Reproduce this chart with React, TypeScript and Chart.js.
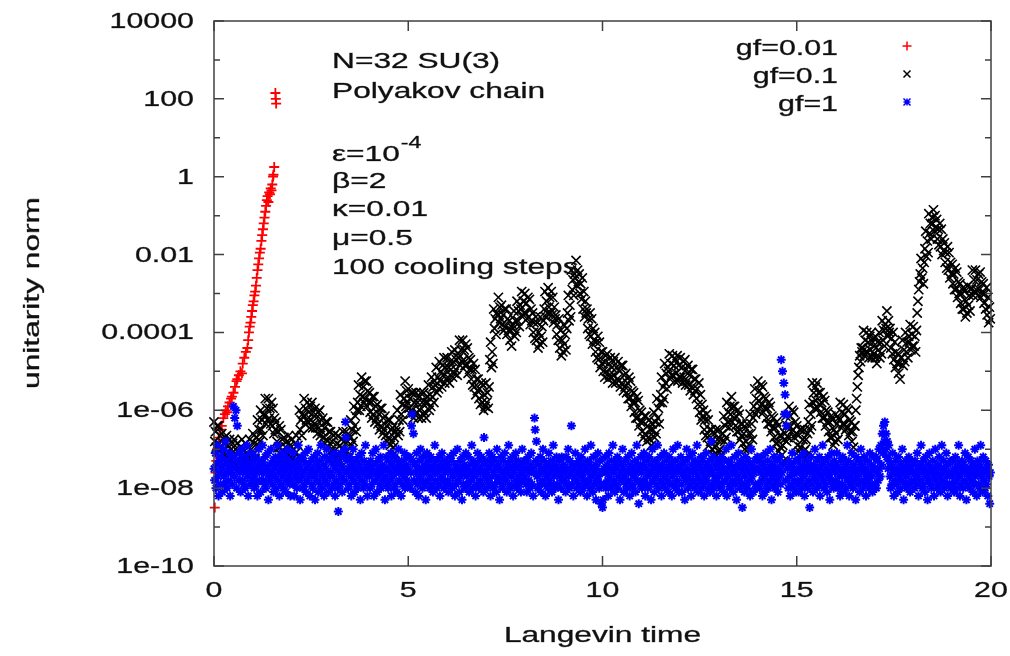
import React, { useEffect, useRef } from 'react';
import { Chart, registerables } from 'chart.js';

Chart.register(...registerables);

// ---------- axis / label data ----------
const X_TICKS = [0, 5, 10, 15, 20];
const X_TICK_LABELS = ['0', '5', '10', '15', '20'];
const Y_TICKS = [1e4, 1e2, 1, 1e-2, 1e-4, 1e-6, 1e-8, 1e-10];
const Y_TICK_LABELS = ['10000', '100', '1', '0.01', '0.0001', '1e-06', '1e-08', '1e-10'];
const Y_MINOR_TICKS = [1e3, 1e1, 1e-1, 1e-3, 1e-5, 1e-7, 1e-9];
const X_TITLE = 'Langevin time';
const Y_TITLE = 'unitarity norm';
const SERIES_LABELS = ['gf=0.01', 'gf=0.1', 'gf=1'];
const INFO_LINES = ['N=32 SU(3)', 'Polyakov chain'];
const PARAM_LINES = ['β=2', 'κ=0.01', 'μ=0.5', '100 cooling steps'];

// ---------- series: gf=0.01 (time, log10 of norm) ----------
const GF001_TIME = [
  0.02, 0.04, 0.06, 0.08, 0.12, 0.16, 0.2, 0.24, 0.28, 0.3, 0.34, 0.36, 0.4, 0.44, 0.46, 0.5,
  0.54, 0.58, 0.6, 0.64, 0.68, 0.72, 0.74, 0.78, 0.82, 0.86, 0.88, 0.9, 0.92, 0.94, 0.96, 0.98,
  1.0, 1.02, 1.04, 1.06, 1.08, 1.1, 1.12, 1.14, 1.16, 1.18, 1.2, 1.22, 1.24, 1.26, 1.28, 1.3,
  1.32, 1.34, 1.36, 1.38, 1.4, 1.42, 1.44, 1.46, 1.48, 1.5, 1.52, 1.53, 1.55, 1.58, 1.59, 1.6,
];
const GF001_LOG = [
  -8.5, -7.6, -7.3, -7.0, -6.7, -6.5, -6.4, -6.2, -6.1, -6.0, -6.05, -5.9, -5.8, -5.7, -5.65, -5.55,
  -5.4, -5.25, -5.2, -5.1, -5.0, -5.05, -4.8, -4.65, -4.5, -4.4, -4.2, -4.0, -3.85, -3.75, -3.6, -3.45,
  -3.3, -3.2, -3.05, -2.95, -2.8, -2.6, -2.4, -2.25, -2.1, -1.95, -1.85, -1.65, -1.5, -1.35, -1.2, -1.05,
  -0.9, -0.75, -0.6, -0.5, -0.65, -0.4, -0.45, -0.3, -0.35, -0.2, 0.0, 0.05, 0.25, 2.15, 2.0, 1.88,
];

// ---------- series: gf=0.1 (log10 of norm, sampled every GF01_DT) ----------
const GF01_DT = 0.02;
const GF01_LOG = [
  -6.3,-6.8,-6.55,-6.95,-6.4,-6.85,-6.4,-7.05,-6.65,-6.95,-6.6,-7.1,-6.85,-7.25,-6.7,-7.1,-6.65,-7.3,-6.9,-7.2,-6.75,-7.25,-7.0,-7.4,-6.85,
  -7.2,-6.75,-7.4,-7.0,-7.3,-6.85,-7.35,-7.1,-7.5,-6.95,-7.2,-6.75,-7.4,-7.0,-7.3,-6.85,-7.35,-7.1,-7.5,-6.95,-7.2,-6.75,-7.4,-7.0,-7.3,
  -6.6,-7.1,-6.85,-7.25,-6.7,-6.7,-6.25,-6.9,-6.5,-6.8,-6.0,-6.5,-6.25,-6.65,-6.1,-6.15,-5.7,-6.35,-5.95,-6.25,-5.7,-6.2,-5.95,-6.35,-5.8,
  -6.4,-5.95,-6.6,-6.2,-6.5,-6.3,-6.8,-6.55,-6.95,-6.4,-6.95,-6.5,-7.15,-6.75,-7.05,-6.7,-7.2,-6.95,-7.35,-6.8,-7.1,-6.65,-7.3,-6.9,-7.2,
  -6.75,-7.25,-7.0,-7.4,-6.85,-7.1,-6.65,-7.3,-6.9,-7.2,-6.0,-6.5,-6.25,-6.65,-6.1,-6.15,-5.7,-6.35,-5.95,-6.25,-5.8,-6.3,-6.05,-6.45,-5.9,
  -6.25,-5.8,-6.45,-6.05,-6.35,-5.95,-6.45,-6.2,-6.6,-6.05,-6.45,-6.0,-6.65,-6.25,-6.55,-6.2,-6.7,-6.45,-6.85,-6.3,-6.75,-6.3,-6.95,-6.55,-6.85,
  -6.55,-7.05,-6.8,-7.2,-6.65,-7.05,-6.6,-7.25,-6.85,-7.15,-6.65,-7.15,-6.9,-7.3,-6.75,-7.0,-6.55,-7.2,-6.8,-7.1,-6.55,-7.05,-6.8,-7.2,-6.65,
  -6.7,-6.25,-6.9,-6.5,-6.8,-5.9,-6.4,-6.15,-6.55,-6.0,-5.8,-5.35,-6.0,-5.6,-5.9,-5.15,-5.65,-5.4,-5.8,-5.25,-5.7,-5.25,-5.9,-5.5,-5.8,
  -5.55,-6.05,-5.8,-6.2,-5.65,-6.1,-5.65,-6.3,-5.9,-6.2,-5.85,-6.35,-6.1,-6.5,-5.95,-6.4,-5.95,-6.6,-6.2,-6.5,-6.15,-6.65,-6.4,-6.8,-6.25,
  -6.7,-6.25,-6.9,-6.5,-6.8,-6.45,-6.95,-6.7,-7.1,-6.55,-6.45,-6.0,-6.65,-6.25,-6.55,-5.6,-6.1,-5.85,-6.25,-5.7,-5.7,-5.25,-5.9,-5.5,-5.8,
  -5.45,-5.95,-5.7,-6.1,-5.55,-6.0,-5.55,-6.2,-5.8,-6.1,-5.55,-6.05,-5.8,-6.2,-5.65,-6.0,-5.55,-6.2,-5.8,-6.1,-5.55,-6.05,-5.8,-6.2,-5.65,
  -5.8,-5.35,-6.0,-5.6,-5.9,-5.15,-5.65,-5.4,-5.8,-5.25,-5.35,-4.9,-5.55,-5.15,-5.45,-4.75,-5.25,-5.0,-5.4,-4.85,-5.1,-4.65,-5.3,-4.9,-5.2,
  -4.65,-5.15,-4.9,-5.3,-4.75,-4.95,-4.5,-5.15,-4.75,-5.05,-4.45,-4.95,-4.7,-5.1,-4.55,-4.65,-4.2,-4.85,-4.45,-4.75,-4.2,-4.7,-4.45,-4.85,-4.3,
  -4.85,-4.4,-5.05,-4.65,-4.95,-4.7,-5.2,-4.95,-5.35,-4.8,-5.4,-4.95,-5.6,-5.2,-5.5,-5.2,-5.7,-5.45,-5.85,-5.3,-5.8,-5.35,-6.0,-5.6,-5.9,
  -5.3,-5.8,-5.55,-5.95,-5.4,-4.7,-4.25,-4.9,-4.5,-4.8,-3.4,-3.9,-3.65,-4.05,-3.5,-3.55,-3.1,-3.75,-3.35,-3.65,-3.3,-3.8,-3.55,-3.95,-3.4,
  -3.85,-3.4,-4.05,-3.65,-3.95,-3.7,-4.2,-3.95,-4.35,-3.8,-3.9,-3.45,-4.1,-3.7,-4.0,-3.2,-3.7,-3.45,-3.85,-3.3,-3.4,-2.95,-3.6,-3.2,-3.5,
  -3.0,-3.5,-3.25,-3.65,-3.1,-3.6,-3.15,-3.8,-3.4,-3.7,-3.5,-4.0,-3.75,-4.15,-3.6,-4.2,-3.75,-4.4,-4.0,-4.3,-3.6,-4.1,-3.85,-4.25,-3.7,
  -3.4,-2.95,-3.6,-3.2,-3.5,-2.85,-3.35,-3.1,-3.5,-2.95,-3.55,-3.1,-3.75,-3.35,-3.65,-3.55,-4.05,-3.8,-4.2,-3.65,-4.4,-3.95,-4.6,-4.2,-4.5,
  -3.8,-4.3,-4.05,-4.45,-3.9,-3.5,-3.05,-3.7,-3.3,-3.6,-2.4,-2.9,-2.65,-3.05,-2.5,-2.6,-2.15,-2.8,-2.4,-2.7,-2.5,-3.0,-2.75,-3.15,-2.6,
  -3.4,-2.95,-3.6,-3.2,-3.5,-3.4,-3.9,-3.65,-4.05,-3.5,-4.1,-3.65,-4.3,-3.9,-4.2,-4.0,-4.5,-4.25,-4.65,-4.1,-4.7,-4.25,-4.9,-4.5,-4.8,
  -4.5,-5.0,-4.75,-5.15,-4.6,-5.0,-4.55,-5.2,-4.8,-5.1,-4.65,-5.15,-4.9,-5.3,-4.75,-5.1,-4.65,-5.3,-4.9,-5.2,-4.75,-5.25,-5.0,-5.4,-4.85,
  -5.3,-4.85,-5.5,-5.1,-5.4,-5.05,-5.55,-5.3,-5.7,-5.15,-5.7,-5.25,-5.9,-5.5,-5.8,-5.55,-6.05,-5.8,-6.2,-5.65,-6.2,-5.75,-6.4,-6.0,-6.3,
  -6.05,-6.55,-6.3,-6.7,-6.15,-6.6,-6.15,-6.8,-6.4,-6.7,-6.25,-6.75,-6.5,-6.9,-6.35,-6.5,-6.05,-6.7,-6.3,-6.6,-5.7,-6.2,-5.95,-6.35,-5.8,
  -5.6,-5.15,-5.8,-5.4,-5.7,-4.8,-5.3,-5.05,-5.45,-4.9,-5.0,-4.55,-5.2,-4.8,-5.1,-4.6,-5.1,-4.85,-5.25,-4.7,-5.05,-4.6,-5.25,-4.85,-5.15,
  -4.65,-5.15,-4.9,-5.3,-4.75,-5.15,-4.7,-5.35,-4.95,-5.25,-4.85,-5.35,-5.1,-5.5,-4.95,-5.4,-4.95,-5.6,-5.2,-5.5,-5.2,-5.7,-5.45,-5.85,-5.3,
  -6.05,-5.6,-6.25,-5.85,-6.15,-6.0,-6.5,-6.25,-6.65,-6.1,-6.7,-6.25,-6.9,-6.5,-6.8,-6.5,-7.0,-6.75,-7.15,-6.6,-6.95,-6.5,-7.15,-6.75,-7.05,
  -6.5,-7.0,-6.75,-7.15,-6.6,-6.6,-6.15,-6.8,-6.4,-6.7,-5.8,-6.3,-6.05,-6.45,-5.9,-6.1,-5.65,-6.3,-5.9,-6.2,-5.9,-6.4,-6.15,-6.55,-6.0,
  -6.55,-6.1,-6.75,-6.35,-6.65,-6.35,-6.85,-6.6,-7.0,-6.45,-6.8,-6.35,-7.0,-6.6,-6.9,-6.1,-6.6,-6.35,-6.75,-6.2,-5.9,-5.45,-6.1,-5.7,-6.0,
  -5.25,-5.75,-5.5,-5.9,-5.35,-5.85,-5.4,-6.05,-5.65,-5.95,-5.7,-6.2,-5.95,-6.35,-5.8,-6.35,-5.9,-6.55,-6.15,-6.45,-6.2,-6.7,-6.45,-6.85,-6.3,
  -6.85,-6.4,-7.05,-6.65,-6.95,-6.65,-7.15,-6.9,-7.3,-6.75,-6.6,-6.15,-6.8,-6.4,-6.7,-5.9,-6.4,-6.15,-6.55,-6.0,-6.5,-6.05,-6.7,-6.3,-6.6,
  -6.4,-6.9,-6.65,-7.05,-6.5,-6.95,-6.5,-7.15,-6.75,-7.05,-6.5,-7.0,-6.75,-7.15,-6.6,-6.3,-5.85,-6.5,-6.1,-6.4,-5.3,-5.8,-5.55,-5.95,-5.4,
  -5.75,-5.3,-5.95,-5.55,-5.85,-5.55,-6.05,-5.8,-6.2,-5.65,-6.2,-5.75,-6.4,-6.0,-6.3,-6.05,-6.55,-6.3,-6.7,-6.15,-6.7,-6.25,-6.9,-6.5,-6.8,
  -6.1,-6.6,-6.35,-6.75,-6.2,-6.25,-5.8,-6.45,-6.05,-6.35,-5.85,-6.35,-6.1,-6.5,-5.95,-6.45,-6.0,-6.65,-6.25,-6.55,-6.3,-6.8,-6.55,-6.95,-6.4,
  -6.4,-6.0,-5.7,-5.4,-5.1,-4.9,-4.6,-4.75,-4.4,-4.5,-4.4,-3.95,-4.6,-4.2,-4.5,-4.0,-4.5,-4.25,-4.65,-4.1,-4.45,-4.0,-4.65,-4.25,-4.55,
  -4.15,-4.65,-4.4,-4.8,-4.25,-4.45,-4.0,-4.65,-4.25,-4.55,-3.7,-4.2,-3.95,-4.35,-3.8,-3.9,-3.45,-4.1,-3.7,-4.0,-3.9,-4.4,-4.15,-4.55,-4.0,
  -4.7,-4.25,-4.9,-4.5,-4.8,-4.55,-5.05,-4.8,-5.2,-4.65,-4.65,-4.2,-4.85,-4.45,-4.75,-4.0,-4.5,-4.25,-4.65,-4.1,-4.25,-3.8,-4.45,-4.05,-4.35,
  -3.85,-4.35,-4.1,-4.5,-3.95,-3.5,-3.2,-2.9,-2.7,-2.5,-2.1,-2.6,-2.35,-2.75,-2.2,-1.85,-1.4,-2.05,-1.65,-1.95,-0.95,-1.45,-1.2,-1.6,-1.05,
  -1.2,-0.85,-1.4,-1.0,-1.3,-1.1,-1.6,-1.35,-1.75,-1.2,-1.8,-1.35,-2.0,-1.6,-1.9,-1.7,-2.2,-1.95,-2.35,-1.8,-2.4,-1.95,-2.6,-2.2,-2.5,
  -2.25,-2.75,-2.5,-2.9,-2.35,-2.9,-2.45,-3.1,-2.7,-3.0,-2.75,-3.25,-3.0,-3.4,-2.85,-3.4,-2.95,-3.6,-3.2,-3.5,-2.8,-3.3,-3.05,-3.45,-2.9,
  -2.85,-2.4,-3.05,-2.65,-2.95,-2.4,-2.9,-2.65,-3.05,-2.5,-2.9,-2.45,-3.1,-2.7,-3.0,-2.75,-3.25,-3.0,-3.4,-2.85,-3.55,-3.1,-3.75,-3.35,-3.65,
];

// ---------- series: gf=1 (log10 of norm, sampled every GF1_DT) ----------
const GF1_DT = 1 / 60;
const GF1_LOG = [
  -7.5,-7.8,-7.1,-8.0,-7.4,-6.9,-7.7,-8.2,-7.3,-7.6,-7.9,-7.2,-7.5,-8.1,-7.0,-7.7,-7.4,-7.9,-6.8,-7.6,-8.0,-7.3,-7.8,-7.5,-7.1,-8.2,-7.6,-7.4,-7.9,-7.2,
  -5.9,-7.7,-6.2,-7.5,-6.0,-8.0,-6.4,-7.3,-7.8,-7.1,-7.6,-8.1,-7.4,-7.0,-7.8,-7.5,-7.9,-7.2,-8.0,-7.6,-7.3,-6.9,-7.7,-8.2,-7.5,-7.4,-7.9,-7.1,-7.6,-7.8,
  -7.3,-7.7,-8.0,-7.5,-7.2,-7.9,-7.6,-8.2,-7.4,-7.0,-7.8,-7.5,-8.1,-7.3,-7.6,-6.9,-7.8,-7.4,-7.9,-7.2,-8.0,-7.6,-7.5,-7.1,-8.3,-7.7,-7.4,-7.8,-7.0,-7.6,
  -7.9,-7.3,-8.1,-7.5,-7.7,-7.2,-8.0,-7.4,-6.9,-7.8,-7.6,-8.2,-7.3,-7.5,-7.9,-7.1,-7.7,-8.0,-7.4,-7.6,-7.2,-8.1,-7.8,-7.5,-7.0,-7.7,-7.3,-7.9,-8.2,-7.6,
  -7.8,-7.4,-7.1,-7.9,-8.2,-7.5,-7.7,-7.3,-8.0,-7.6,-6.9,-7.8,-7.4,-8.3,-7.5,-7.2,-7.7,-8.0,-7.6,-7.3,-7.9,-7.1,-8.1,-7.5,-7.8,-7.4,-7.0,-7.7,-8.2,-7.6,
  -7.3,-7.9,-7.5,-8.0,-7.2,-7.7,-8.3,-7.6,-7.4,-7.8,-7.1,-8.1,-7.5,-7.3,-7.9,-6.9,-7.6,-8.0,-7.7,-7.4,-8.2,-7.2,-7.8,-7.5,-7.0,-7.9,-7.6,-8.1,-7.3,-7.7,
  -7.6,-7.2,-8.0,-7.7,-7.4,-7.9,-7.1,-8.2,-7.5,-7.8,-7.3,-8.0,-8.6,-7.6,-7.4,-7.9,-7.1,-7.7,-8.1,-7.5,-7.2,-7.8,-7.0,-6.3,-6.7,-7.6,-7.3,-8.0,-7.5,-7.9,
  -7.2,-7.7,-8.2,-7.4,-7.6,-7.0,-7.8,-8.1,-7.5,-7.3,-7.9,-7.6,-8.0,-7.2,-7.7,-7.4,-8.3,-7.5,-7.1,-7.8,-7.6,-8.0,-7.3,-7.9,-6.9,-7.5,-7.7,-8.2,-7.4,-7.6,
  -7.7,-8.0,-7.3,-7.5,-7.9,-7.1,-7.6,-8.2,-7.4,-7.8,-7.0,-7.6,-8.1,-7.3,-7.7,-7.5,-7.9,-7.2,-8.0,-7.6,-7.4,-7.8,-6.9,-7.5,-8.3,-7.7,-7.2,-7.9,-7.5,-8.0,
  -7.3,-7.6,-7.8,-7.1,-8.2,-7.4,-7.7,-7.5,-8.0,-7.2,-7.9,-7.6,-7.3,-8.1,-7.5,-7.0,-7.8,-7.4,-7.6,-8.2,-7.3,-7.9,-7.5,-7.7,-7.1,-8.0,-7.6,-7.4,-7.8,-7.2,
  -7.5,-7.9,-7.2,-8.0,-7.6,-6.4,-6.1,-7.3,-6.6,-7.8,-7.4,-8.1,-7.6,-7.1,-7.9,-7.5,-8.2,-7.3,-7.7,-7.0,-7.8,-7.5,-8.0,-7.2,-7.6,-7.9,-7.4,-8.3,-7.6,-7.1,
  -7.8,-7.5,-7.3,-8.0,-7.7,-7.2,-7.9,-7.5,-8.1,-7.4,-7.6,-6.9,-7.8,-7.3,-8.0,-7.6,-7.5,-7.9,-7.2,-8.2,-7.4,-7.7,-7.1,-7.8,-7.5,-8.0,-7.3,-7.6,-7.9,-7.4,
  -7.4,-7.8,-8.1,-7.5,-7.2,-7.9,-7.6,-7.3,-8.0,-7.7,-7.1,-7.6,-8.2,-7.4,-7.9,-7.5,-7.0,-7.8,-7.6,-8.1,-7.3,-7.7,-7.5,-8.3,-7.2,-7.9,-7.6,-7.4,-8.0,-7.1,
  -7.7,-7.5,-7.9,-7.2,-8.1,-7.6,-7.4,-7.8,-6.9,-7.6,-8.0,-7.3,-7.7,-7.5,-8.2,-7.4,-7.9,-7.1,-7.6,-8.0,-7.3,-7.8,-7.5,-7.2,-7.9,-7.6,-8.1,-6.7,-7.4,-7.7,
  -7.6,-8.0,-7.3,-7.8,-7.5,-7.1,-7.9,-8.2,-7.4,-7.7,-7.2,-8.0,-7.6,-7.3,-7.9,-7.5,-8.1,-7.0,-7.7,-7.4,-7.8,-8.3,-7.5,-7.2,-7.9,-7.6,-8.0,-7.3,-7.7,-7.1,
  -7.8,-7.5,-8.1,-7.4,-7.6,-6.9,-7.9,-7.3,-8.0,-7.7,-7.5,-7.2,-8.2,-7.6,-7.4,-7.9,-7.1,-7.8,-8.0,-7.5,-7.3,-7.7,-7.9,-7.4,-8.1,-7.6,-7.0,-7.8,-7.5,-7.3,
  -7.7,-7.3,-7.9,-8.1,-7.5,-7.2,-7.8,-7.6,-8.0,-7.4,-7.1,-7.9,-7.5,-8.2,-7.6,-6.2,-6.5,-7.3,-6.8,-7.7,-8.0,-7.4,-7.6,-7.9,-7.2,-8.1,-7.5,-7.8,-7.0,-7.6,
  -7.3,-7.9,-8.2,-7.5,-7.7,-7.4,-8.0,-7.1,-7.8,-7.6,-7.3,-7.9,-8.1,-7.5,-6.9,-7.7,-7.4,-8.0,-7.6,-7.2,-7.9,-7.5,-8.3,-7.3,-7.7,-7.6,-8.0,-7.2,-7.8,-7.5,
  -7.4,-7.8,-7.6,-8.1,-7.2,-7.9,-7.5,-7.0,-7.7,-8.0,-7.3,-7.6,-6.4,-7.9,-7.4,-8.2,-7.5,-7.7,-7.1,-7.8,-8.0,-7.4,-7.6,-7.3,-7.9,-7.5,-8.1,-7.2,-7.7,-7.6,
  -8.0,-7.4,-7.8,-7.0,-7.5,-7.9,-8.2,-7.3,-7.6,-7.8,-7.4,-8.0,-6.9,-7.7,-7.5,-8.1,-7.2,-7.9,-7.6,-7.4,-8.3,-7.5,-7.8,-7.1,-7.7,-8.0,-7.3,-7.9,-8.4,-7.6,
  -8.5,-8.3,-7.5,-7.9,-7.2,-8.0,-7.6,-7.4,-7.8,-8.2,-7.1,-7.7,-7.5,-8.0,-7.3,-7.9,-6.9,-7.6,-7.8,-8.1,-7.4,-7.5,-7.9,-7.2,-8.0,-7.7,-7.3,-8.3,-7.6,-7.4,
  -7.8,-7.0,-7.5,-8.1,-7.7,-7.3,-7.9,-7.6,-8.0,-7.2,-7.8,-7.5,-8.2,-7.4,-7.6,-7.1,-7.9,-8.0,-7.5,-7.7,-7.3,-8.1,-7.6,-6.9,-7.8,-7.4,-8.4,-7.5,-7.9,-7.2,
  -7.6,-8.0,-7.4,-7.8,-7.1,-7.9,-8.2,-7.5,-7.3,-7.7,-8.0,-7.6,-7.2,-7.9,-7.4,-8.3,-7.6,-7.0,-7.8,-7.5,-8.1,-7.3,-7.7,-7.9,-7.4,-6.9,-7.6,-8.0,-7.5,-7.2,
  -7.8,-8.2,-7.4,-7.6,-7.9,-7.1,-7.7,-8.0,-7.5,-7.3,-7.8,-7.6,-8.1,-7.2,-7.9,-7.5,-7.4,-8.2,-7.7,-7.0,-7.6,-7.9,-7.3,-8.0,-7.5,-7.8,-6.9,-7.6,-8.1,-7.4,
  -7.5,-7.2,-7.9,-8.1,-7.4,-7.7,-7.6,-8.3,-7.3,-7.8,-7.0,-7.5,-8.0,-7.7,-7.2,-7.9,-7.6,-8.2,-7.4,-7.1,-7.8,-7.5,-8.0,-7.3,-7.6,-7.9,-6.9,-7.7,-8.1,-7.4,
  -7.5,-7.8,-7.2,-8.0,-7.6,-7.3,-7.9,-8.2,-7.5,-7.7,-7.1,-7.8,-7.4,-8.0,-7.6,-7.3,-8.1,-7.5,-6.8,-7.9,-7.6,-7.2,-8.0,-7.7,-7.4,-7.8,-8.2,-7.5,-7.3,-7.9,
  -7.7,-7.4,-8.0,-7.6,-7.2,-7.9,-7.5,-8.1,-7.3,-7.8,-7.6,-7.0,-8.2,-7.5,-7.7,-7.3,-7.9,-8.0,-7.4,-6.9,-7.6,-7.8,-8.1,-7.5,-7.2,-7.9,-7.6,-8.3,-7.4,-7.7,
  -7.1,-7.8,-8.0,-7.5,-7.3,-7.9,-8.5,-7.6,-7.4,-8.1,-7.7,-7.2,-7.9,-7.5,-8.0,-7.3,-7.6,-7.8,-8.2,-7.4,-7.0,-7.7,-7.5,-8.1,-7.6,-7.3,-7.9,-7.5,-8.0,-7.2,
  -7.5,-7.9,-7.3,-8.0,-7.6,-7.2,-7.8,-8.2,-7.4,-7.7,-7.5,-8.1,-7.1,-7.9,-7.6,-7.3,-8.0,-7.5,-7.8,-7.0,-7.6,-8.3,-7.4,-7.7,-7.9,-7.2,-8.0,-7.5,-7.6,-7.8,
  -7.3,-8.1,-7.5,-7.7,-7.2,-7.9,-4.7,-7.6,-5.0,-7.4,-5.3,-6.1,-5.6,-7.8,-6.4,-6.1,-7.5,-8.0,-7.3,-7.7,-8.2,-7.4,-7.9,-7.1,-7.6,-8.0,-7.5,-7.8,-7.3,-8.1,
  -7.6,-7.3,-7.9,-8.1,-7.5,-7.2,-7.8,-7.6,-8.0,-7.4,-7.7,-7.1,-8.2,-7.5,-7.9,-7.3,-7.6,-8.0,-7.4,-7.8,-8.5,-7.5,-7.2,-7.9,-7.6,-8.1,-7.4,-7.7,-7.0,-7.8,
  -7.5,-8.0,-7.3,-7.6,-7.9,-7.2,-8.2,-7.5,-7.7,-7.4,-6.9,-7.8,-8.0,-7.6,-7.3,-7.9,-7.5,-8.1,-7.2,-7.7,-7.6,-8.3,-7.4,-7.8,-7.1,-7.9,-7.5,-8.0,-7.3,-7.6,
  -7.8,-7.4,-7.1,-7.9,-8.0,-7.5,-7.7,-8.2,-7.3,-7.6,-7.9,-7.2,-8.1,-7.5,-7.7,-7.4,-8.0,-7.6,-6.9,-7.8,-7.3,-8.2,-7.5,-7.7,-7.9,-7.1,-7.6,-8.0,-7.4,-7.8,
  -7.5,-8.3,-7.2,-7.7,-7.6,-7.9,-7.3,-8.1,-7.5,-7.0,-7.8,-7.4,-8.0,-7.6,-7.2,-7.9,-7.5,-8.2,-7.7,-7.3,-7.8,-7.6,-8.0,-7.1,-7.9,-7.4,-7.7,-8.1,-7.5,-7.2,
  -7.5,-7.9,-7.2,-8.0,-7.6,-7.3,-7.8,-7.0,-7.5,-7.7,-6.9,-7.4,-6.6,-7.1,-6.4,-6.8,-6.3,-7.0,-6.6,-7.2,-6.8,-7.5,-6.9,-7.3,-7.7,-8.0,-7.4,-7.9,-7.1,-7.6,
  -8.2,-7.5,-7.8,-7.3,-7.9,-7.6,-8.1,-7.2,-7.7,-7.5,-8.0,-7.4,-7.8,-7.0,-7.6,-8.3,-7.5,-7.9,-7.3,-7.7,-8.0,-7.4,-7.6,-7.2,-7.9,-8.1,-7.5,-7.8,-7.3,-7.6,
  -7.4,-7.8,-8.0,-7.3,-7.6,-7.9,-7.1,-7.7,-8.2,-7.5,-7.4,-7.8,-6.9,-7.6,-8.0,-7.3,-7.9,-7.5,-8.1,-7.2,-7.7,-7.6,-8.3,-7.4,-7.8,-7.1,-7.9,-7.5,-8.0,-7.6,
  -7.3,-7.7,-8.2,-7.5,-7.0,-7.8,-7.6,-8.0,-7.4,-7.9,-7.2,-7.7,-8.1,-7.5,-6.9,-7.8,-7.6,-7.3,-8.0,-7.5,-7.9,-7.1,-7.7,-8.2,-7.4,-7.6,-7.9,-7.3,-8.0,-7.6,
  -7.7,-7.3,-7.9,-8.1,-7.5,-7.2,-7.8,-7.6,-8.0,-7.4,-6.9,-7.7,-8.2,-7.5,-7.9,-7.3,-7.6,-8.0,-7.4,-7.8,-7.1,-7.5,-8.3,-7.6,-7.9,-7.2,-7.7,-8.0,-7.5,-7.3,
  -7.8,-7.6,-8.1,-7.4,-7.9,-7.0,-7.7,-7.5,-8.2,-7.3,-7.6,-7.9,-7.4,-8.0,-6.9,-7.7,-7.5,-8.1,-7.2,-7.8,-7.6,-8.0,-7.3,-7.9,-7.5,-8.2,-7.4,-7.7,-8.4,-7.6,
];

// ---------- styling ----------
const FONT = '"Liberation Sans", Arial, Helvetica, sans-serif';
const TICK_STRETCH = 1.38;
const TEXT_STRETCH = 1.44;
const COLORS = ['#ff0000', '#000000', '#0000ff'];

function drawText(
  ctx: CanvasRenderingContext2D,
  s: string,
  x: number,
  y: number,
  align: CanvasTextAlign,
  size: number,
  stretch: number,
  baseline: CanvasTextBaseline = 'alphabetic',
  rotate = 0,
) {
  ctx.save();
  ctx.translate(x, y);
  if (rotate) ctx.rotate(rotate);
  ctx.scale(stretch, 1);
  ctx.font = `${size}px ${FONT}`;
  ctx.textAlign = align;
  ctx.textBaseline = baseline;
  ctx.fillStyle = '#111';
  ctx.strokeStyle = 'rgba(0,0,0,0.55)';
  ctx.lineWidth = 0.5;
  ctx.fillText(s, 0, 0);
  ctx.strokeText(s, 0, 0);
  ctx.restore();
}

function textWidth(ctx: CanvasRenderingContext2D, s: string, size: number, stretch: number) {
  ctx.save();
  ctx.font = `${size}px ${FONT}`;
  const w = ctx.measureText(s).width * stretch;
  ctx.restore();
  return w;
}

function legendMarker(ctx: CanvasRenderingContext2D, kind: number, x: number, y: number) {
  ctx.save();
  ctx.strokeStyle = COLORS[kind];
  ctx.lineWidth = 1.5;
  ctx.beginPath();
  if (kind === 0) {
    ctx.moveTo(x - 4.5, y); ctx.lineTo(x + 4.5, y);
    ctx.moveTo(x, y - 4.5); ctx.lineTo(x, y + 4.5);
  } else if (kind === 1) {
    ctx.moveTo(x - 3.5, y - 3.5); ctx.lineTo(x + 3.5, y + 3.5);
    ctx.moveTo(x - 3.5, y + 3.5); ctx.lineTo(x + 3.5, y - 3.5);
  } else {
    ctx.moveTo(x - 3.5, y); ctx.lineTo(x + 3.5, y);
    ctx.moveTo(x, y - 3.5); ctx.lineTo(x, y + 3.5);
    ctx.moveTo(x - 3.5, y - 3.5); ctx.lineTo(x + 3.5, y + 3.5);
    ctx.moveTo(x - 3.5, y + 3.5); ctx.lineTo(x + 3.5, y - 3.5);
  }
  ctx.stroke();
  ctx.restore();
}

const decorPlugin = {
  id: 'gnuplotDecor',
  afterDatasetsDraw(chart: any) {
    const ctx: CanvasRenderingContext2D = chart.ctx;
    const { left, right, top, bottom } = chart.chartArea;
    const xs = chart.scales.x;
    const ys = chart.scales.y;

    // frame and ticks
    ctx.save();
    ctx.strokeStyle = '#404040';
    ctx.lineWidth = 1.5;
    ctx.strokeRect(left, top, right - left, bottom - top);
    ctx.beginPath();
    Y_TICKS.forEach((v) => {
      const y = ys.getPixelForValue(v);
      ctx.moveTo(left, y); ctx.lineTo(left + 10, y);
      ctx.moveTo(right, y); ctx.lineTo(right - 10, y);
    });
    Y_MINOR_TICKS.forEach((v) => {
      const y = ys.getPixelForValue(v);
      ctx.moveTo(left, y); ctx.lineTo(left + 6, y);
      ctx.moveTo(right, y); ctx.lineTo(right - 6, y);
    });
    X_TICKS.forEach((v) => {
      const x = xs.getPixelForValue(v);
      ctx.moveTo(x, bottom); ctx.lineTo(x, bottom - 10);
      ctx.moveTo(x, top); ctx.lineTo(x, top + 10);
    });
    ctx.stroke();
    ctx.restore();

    // tick labels
    Y_TICKS.forEach((v, i) => {
      drawText(ctx, Y_TICK_LABELS[i], left - 20, ys.getPixelForValue(v) + 1, 'right', 22, TICK_STRETCH, 'middle');
    });
    X_TICKS.forEach((v, i) => {
      drawText(ctx, X_TICK_LABELS[i], xs.getPixelForValue(v), bottom + 25, 'center', 22, TICK_STRETCH, 'middle');
    });

    // axis titles
    drawText(ctx, X_TITLE, (left + right) / 2, bottom + 70, 'center', 22, TEXT_STRETCH, 'middle');
    drawText(ctx, Y_TITLE, 33, 293, 'center', 22, TEXT_STRETCH, 'middle', -Math.PI / 2);

    // annotation block
    const ax = 332;
    drawText(ctx, INFO_LINES[0], ax, 68, 'left', 22, TEXT_STRETCH);
    drawText(ctx, INFO_LINES[1], ax, 98, 'left', 22, TEXT_STRETCH);
    const epsBase = 'ε=10';
    drawText(ctx, epsBase, ax, 161, 'left', 22, TEXT_STRETCH);
    const w = textWidth(ctx, epsBase, 22, TEXT_STRETCH);
    drawText(ctx, '-4', ax + w + 1, 148, 'left', 16, TEXT_STRETCH);
    const paramBaselines = [188, 216, 245, 274];
    PARAM_LINES.forEach((s, i) => drawText(ctx, s, ax, paramBaselines[i], 'left', 22, TEXT_STRETCH));

    // legend
    const legendBaselines = [55, 83, 111];
    SERIES_LABELS.forEach((s, i) => {
      drawText(ctx, s, 838, legendBaselines[i], 'right', 22, TICK_STRETCH);
      legendMarker(ctx, i, 907, legendBaselines[i] - 9);
    });
  },
};

export default function App() {
  const canvasRef = useRef<HTMLCanvasElement | null>(null);

  useEffect(() => {
    const canvas = canvasRef.current;
    if (!canvas) return;

    const redData = GF001_TIME.map((t, i) => ({ x: t, y: Math.pow(10, GF001_LOG[i]) }));
    const blackData = GF01_LOG.map((v, i) => ({ x: i * GF01_DT, y: Math.pow(10, v) }));
    const blueData = GF1_LOG.map((v, i) => ({ x: i * GF1_DT, y: Math.pow(10, v) }));

    const chart = new Chart(canvas, {
      type: 'scatter',
      data: {
        datasets: [
          {
            label: SERIES_LABELS[0],
            data: redData,
            pointStyle: 'cross',
            pointRadius: 5,
            borderColor: COLORS[0],
            backgroundColor: COLORS[0],
            borderWidth: 1.8,
            order: 3,
            clip: false as any,
          },
          {
            label: SERIES_LABELS[1],
            data: blackData,
            pointStyle: 'crossRot',
            pointRadius: 6.5,
            borderColor: COLORS[1],
            backgroundColor: COLORS[1],
            borderWidth: 1.6,
            order: 2,
            clip: false as any,
          },
          {
            label: SERIES_LABELS[2],
            data: blueData,
            pointStyle: 'star',
            pointRadius: 4.5,
            borderColor: COLORS[2],
            backgroundColor: COLORS[2],
            borderWidth: 2,
            order: 1,
            clip: false as any,
          },
        ],
      },
      options: {
        responsive: false,
        animation: false,
        events: [],
        devicePixelRatio: 1,
        layout: { padding: { left: 214, right: 19, top: 21, bottom: 90 } },
        scales: {
          x: { type: 'linear', min: 0, max: 20, display: false },
          y: { type: 'logarithmic', min: 1e-10, max: 1e4, display: false },
        },
        plugins: {
          legend: { display: false },
          tooltip: { enabled: false },
        },
      },
      plugins: [decorPlugin],
    });

    return () => chart.destroy();
  }, []);

  return (
    <div style={{ position: 'absolute', left: 0, top: 0, width: 1010, height: 656, background: '#fff' }}>
      <canvas ref={canvasRef} width={1010} height={656} style={{ display: 'block' }} />
    </div>
  );
}
